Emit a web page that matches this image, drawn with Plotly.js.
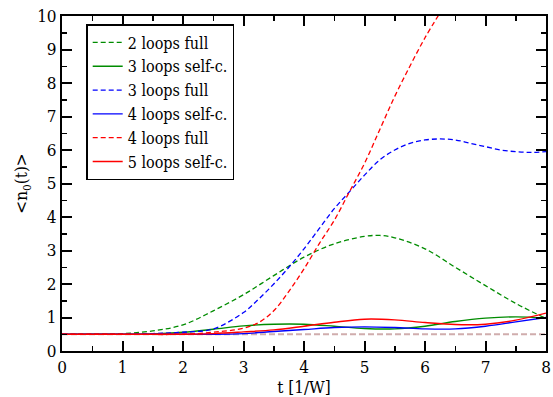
<!DOCTYPE html>
<html>
<head>
<meta charset="utf-8">
<script src="https://cdn.plot.ly/plotly-3.0.1.min.js"></script>
<style>html,body{margin:0;padding:0;background:#fff;}#chart{width:553px;height:397px;}</style>
</head>
<body>
<div id="chart"></div>
<script>
// time grid (t in 1/W)
const tFull2 = [0, 0.5, 1, 1.5, 2, 2.5, 3, 3.5, 4, 4.5, 5, 5.25, 5.5, 6, 6.5, 7, 7.5, 8];
const loops2Full = [0.5, 0.5, 0.52, 0.6, 0.78, 1.2, 1.68, 2.25, 2.8, 3.2, 3.42, 3.45, 3.38, 3.05, 2.5, 1.95, 1.42, 0.97];

const tSelf = [0, 1, 1.5, 2, 2.5, 3, 3.5, 4, 4.5, 5, 5.5, 6, 6.5, 7, 7.5, 8];
const loops3Self = [0.5, 0.5, 0.51, 0.56, 0.65, 0.75, 0.8, 0.8, 0.74, 0.67, 0.66, 0.74, 0.88, 0.98, 1.02, 0.98];
const loops4Self = [0.5, 0.5, 0.5, 0.5, 0.5, 0.52, 0.58, 0.64, 0.7, 0.72, 0.7, 0.66, 0.66, 0.74, 0.87, 1.0];
const loops5Self = [0.5, 0.5, 0.5, 0.5, 0.52, 0.57, 0.63, 0.74, 0.86, 0.95, 0.93, 0.85, 0.79, 0.8, 0.92, 1.13];

const tFull3 = [0, 1, 1.5, 2, 2.5, 3, 3.25, 3.5, 3.75, 4, 4.25, 4.5, 4.75, 5, 5.25, 5.5, 5.75, 6, 6.25, 6.5, 6.75, 7, 7.25, 7.5, 7.75, 8];
const loops3Full = [0.5, 0.5, 0.52, 0.56, 0.66, 1.15, 1.55, 2.0, 2.5, 3.05, 3.65, 4.25, 4.75, 5.25, 5.7, 6.0, 6.2, 6.3, 6.33, 6.3, 6.2, 6.1, 6.0, 5.95, 5.93, 5.95];

const tFull4 = [0, 1, 2, 2.5, 3, 3.25, 3.5, 3.75, 4, 4.25, 4.5, 4.75, 5, 5.25, 5.5, 5.75, 6, 6.25];
const loops4Full = [0.5, 0.5, 0.5, 0.56, 0.68, 0.85, 1.2, 1.78, 2.45, 3.2, 3.9, 4.75, 5.6, 6.6, 7.6, 8.5, 9.35, 10.1];

const tRef = [0, 8];
const refLevel = [0.5, 0.5];

const xTicks = [0, 1, 2, 3, 4, 5, 6, 7, 8];
const yTicks = [0, 1, 2, 3, 4, 5, 6, 7, 8, 9, 10];

const GREEN = '#008c00', BLUE = '#0000ff', RED = '#ff0000';
const dashed = '5px,3px';

const traces = [
  {x: tRef, y: refLevel, mode: 'lines', showlegend: false, hoverinfo: 'skip',
   line: {color: '#d0adad', width: 2, dash: '6px,3px'}},
  {x: tFull2, y: loops2Full, mode: 'lines', name: '2 loops full',
   line: {color: GREEN, width: 1.3, dash: dashed, shape: 'spline'}},
  {x: tSelf, y: loops3Self, mode: 'lines', name: '3 loops self-c.',
   line: {color: GREEN, width: 1.4, shape: 'spline'}},
  {x: tFull3, y: loops3Full, mode: 'lines', name: '3 loops full',
   line: {color: BLUE, width: 1.3, dash: dashed, shape: 'spline'}},
  {x: tSelf, y: loops4Self, mode: 'lines', name: '4 loops self-c.',
   line: {color: BLUE, width: 1.4, shape: 'spline'}},
  {x: tFull4, y: loops4Full, mode: 'lines', name: '4 loops full',
   line: {color: RED, width: 1.3, dash: dashed, shape: 'spline'}},
  {x: tSelf, y: loops5Self, mode: 'lines', name: '5 loops self-c.',
   line: {color: RED, width: 1.4, shape: 'spline'}}
];

const font = {family: 'DejaVu Serif Condensed, DejaVu Serif', size: 17, color: '#000'};
const legendFont = {family: 'DejaVu Serif Condensed, DejaVu Serif', size: 16, color: '#000'};

const axisCommon = {
  showgrid: false, zeroline: false, showline: true, linecolor: '#000', linewidth: 2,
  mirror: 'ticks', ticks: 'inside', ticklen: 10, tickwidth: 2, tickcolor: '#000',
  minor: {ticks: 'inside', ticklen: 5, tickwidth: 1.5, tickcolor: '#000', dtick: 0.5},
  tickfont: font
};

const layout = {
  width: 553, height: 397,
  margin: {l: 62, r: 7, t: 16, b: 46},
  paper_bgcolor: '#fff', plot_bgcolor: '#fff',
  font: font,
  showlegend: true,
  xaxis: Object.assign({}, axisCommon, {
    range: [0, 8], tickvals: xTicks, ticktext: xTicks.map(String),
    title: {text: 't [1/W]', font: font, standoff: 0}
  }),
  yaxis: Object.assign({}, axisCommon, {
    range: [0, 10], tickvals: yTicks, ticktext: yTicks.map(String),
    title: {text: '&lt;n<sub>0</sub>(t)&gt;', font: font, standoff: 5}
  }),
  legend: {
    x: 0.05, y: 0.976, xanchor: 'left', yanchor: 'top',
    bordercolor: '#000', borderwidth: 1.5, bgcolor: '#fff',
    font: legendFont, itemwidth: 30, tracegroupgap: 0
  }
};

Plotly.newPlot('chart', traces, layout, {staticPlot: true, displayModeBar: false});
</script>
</body>
</html>
